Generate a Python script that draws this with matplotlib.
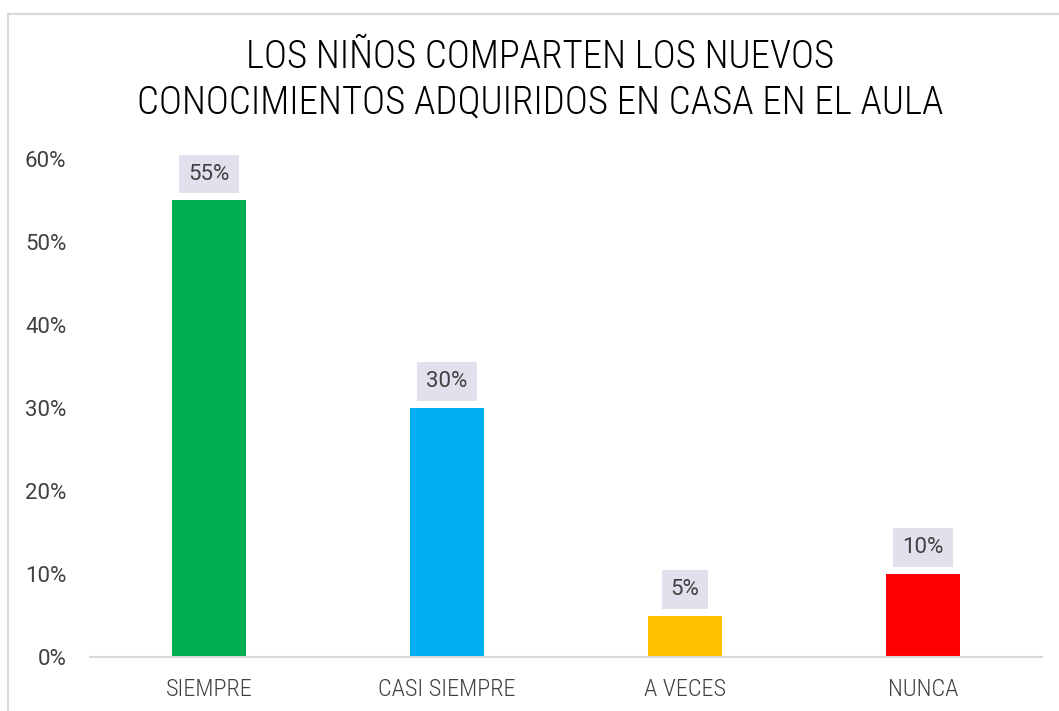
import matplotlib.pyplot as plt
from matplotlib.patches import Rectangle

categories = ["SIEMPRE", "CASI SIEMPRE", "A VECES", "NUNCA"]
values = [0.55, 0.30, 0.05, 0.10]
labels = ["55%", "30%", "5%", "10%"]
colors = ["#00B050", "#00B0F0", "#FFC000", "#FF0000"]
yticks = [0, 0.1, 0.2, 0.3, 0.4, 0.5, 0.6]
ytick_labels = ["0%", "10%", "20%", "30%", "40%", "50%", "60%"]

font = ["Roboto Condensed", "DejaVu Sans"]
numfont = ["Roboto", "DejaVu Sans"]
W, H = 1059, 711

fig = plt.figure(figsize=(W / 100, H / 100), dpi=100)
# light grey chart border (cut off at right and bottom like the reference)
fig.patches.append(Rectangle((8 / W, -0.05), 1.1, 1 - 14 / H + 0.05,
                             transform=fig.transFigure, fill=False,
                             edgecolor="#D9D9D9", linewidth=1.5))

ax = fig.add_axes([90 / W, 1 - 657 / H, (1042 - 90) / W, (657 - 159) / H])
x = range(len(categories))
ax.bar(x, values, width=0.315, color=colors)
ax.set_xlim(-0.5, 3.5)
ax.set_ylim(0, 0.6)
ax.set_yticks(yticks)
ax.set_yticklabels(ytick_labels, fontfamily=numfont, fontweight="normal",
                   fontsize=16, color="#404040")
ax.set_xticks(list(x))
ax.set_xticklabels(categories, fontfamily=font, fontweight="light",
                   fontsize=17.5, color="#404040")
ax.tick_params(axis="y", length=0, pad=17)
ax.tick_params(axis="x", length=0, pad=15)
for s in ["top", "right", "left"]:
    ax.spines[s].set_visible(False)
ax.spines["bottom"].set_color("#D9D9D9")
ax.spines["bottom"].set_linewidth(1.5)

for xi, v, lab in zip(x, values, labels):
    ax.annotate(lab, (xi, v), xytext=(0, 19), textcoords="offset points",
                ha="center", va="center", fontfamily=numfont, fontweight="normal",
                fontsize=16, color="#404040",
                bbox=dict(boxstyle="square,pad=0.4", fc="#E4DFEC", ec="none"))

fig.text(540 / W, 1 - 57 / H, "LOS NIÑOS COMPARTEN LOS NUEVOS",
         ha="center", va="center", fontfamily=font, fontweight="light",
         fontsize=28, color="#000000")
fig.text(540 / W, 1 - 103 / H, "CONOCIMIENTOS ADQUIRIDOS EN CASA EN EL AULA",
         ha="center", va="center", fontfamily=font, fontweight="light",
         fontsize=28, color="#000000")

fig.savefig("out.png", dpi=100)
